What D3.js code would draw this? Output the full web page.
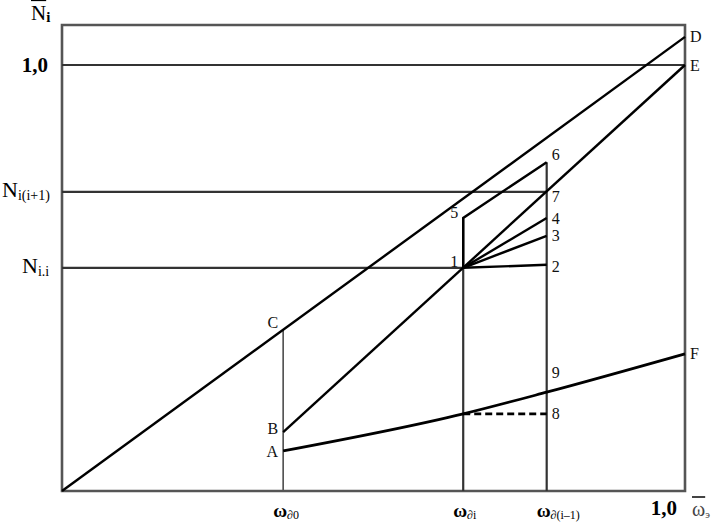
<!DOCTYPE html>
<html><head><meta charset="utf-8">
<script src="https://cdn.jsdelivr.net/npm/d3@7"></script>
<style>body{margin:0;background:#fff}svg{display:block}text{font-family:"Liberation Serif","Times New Roman",serif}</style>
</head><body><svg id="c" width="720" height="528"></svg>
<script>
// x positions (fraction of ω̄э) of the marked levels
const xLabels = ["∂0", "∂i", "∂(i–1)"];
const xValues = [0.355, 0.644, 0.778];
// y levels (fraction of N̄i)
const yLabels = ["1,0", "i(i+1)", "i.i"];
const yValues = [1.0, 0.702, 0.524];
// named lines
const lineOD = [[0, 0], [1, 1.066]];
const lineBE = [[0.355, 0.138], [1, 1.0]];
const line156 = [[0.644, 0.524], [0.644, 0.641], [0.778, 0.772]];
const rayEnds = [0.531, 0.599, 0.641];            // points 2,3,4 at ω∂(i-1)
const curveAF = [[0.355, 0.094], [0.644, 0.181], [0.778, 0.232], [1, 0.322]];
const dashed8 = [[0.644, 0.181], [0.778, 0.181]];
const pointLabels = ["D","E","F","C","B","A","5","1","6","7","4","3","2","9","8"];
const pointPos = [[1,1.066],[1,1.0],[1,0.322],[0.355,0.378],[0.355,0.138],[0.355,0.094],
  [0.644,0.641],[0.644,0.524],[0.778,0.772],[0.778,0.702],[0.778,0.641],[0.778,0.599],[0.778,0.531],[0.778,0.232],[0.778,0.181]];
const pointSide = ["r","r","r","l","l","l","l","l","r","r","r","r","r","r","r"];
const pointDy = [0,0,0,-8,-4,0,-6,-6,-8,4,0,0,2,-20,0];

const svg = d3.select("#c");
const x = d3.scaleLinear().domain([0, 1]).range([62, 685]);
const y = d3.scaleLinear().domain([0, 1]).range([491, 65]);
const yTop = 25;
const line = d3.line().x(d => x(d[0])).y(d => y(d[1]));
const frameCol = "#555";

// frame
svg.append("path").attr("d", `M${x(0)},${yTop}V${y(0)}H${x(1)}V${yTop}Z`)
  .attr("fill","none").attr("stroke",frameCol).attr("stroke-width",2.6);

// horizontal levels
const hEnds = [1, xValues[2], xValues[1]];
yValues.forEach((v,i)=>{
  svg.append("line").attr("x1",x(0)).attr("x2",x(hEnds[i])).attr("y1",y(v)).attr("y2",y(v))
    .attr("stroke","#333").attr("stroke-width",2.2);
});
// verticals
const odAt = xx => lineOD[0][1] + (lineOD[1][1]-lineOD[0][1])*xx;
const vTops = [odAt(xValues[0]), line156[1][1], line156[2][1]];
xValues.forEach((v,i)=>{
  svg.append("line").attr("x1",x(v)).attr("x2",x(v)).attr("y1",y(vTops[i])).attr("y2",y(0))
    .attr("stroke",i==0?"#555":"#333").attr("stroke-width",i==0?1.7:2.2);
});

const dataLine = (pts) => svg.append("path").attr("d", line(pts)).attr("fill","none")
  .attr("stroke","#000").attr("stroke-width",2.4).attr("stroke-linejoin","miter");
dataLine(lineOD);
dataLine(lineBE);
dataLine(line156);
rayEnds.forEach(v => dataLine([line156[0], [xValues[2], v]]));
svg.append("path").attr("d", line.curve(d3.curveMonotoneX)(curveAF)).attr("fill","none")
  .attr("stroke","#000").attr("stroke-width",2.7);
line.curve(d3.curveLinear);
svg.append("path").attr("d", line(dashed8)).attr("fill","none").attr("stroke","#000")
  .attr("stroke-width",2.7).attr("stroke-dasharray","7,4");

// point labels
pointLabels.forEach((t,i)=>{
  const p = pointPos[i];
  svg.append("text").attr("x", x(p[0]) + (pointSide[i]=="r"?5:-5))
    .attr("y", y(p[1]) + pointDy[i]).attr("dy","0.35em")
    .attr("text-anchor", pointSide[i]=="r"?"start":"end")
    .attr("font-size", 16).attr("fill","#111").text(t);
});

// y labels
const yl = svg.append("g");
yl.append("text").attr("x",48).attr("y",y(1)+7).attr("text-anchor","end")
  .attr("font-size",21).attr("font-weight","bold").text(yLabels[0]);
[[1,2],[2,22]].forEach(([i,xx])=>{
  const t = yl.append("text").attr("x",xx).attr("y",y(yValues[i])+5).attr("font-size",22);
  t.append("tspan").text("N");
  t.append("tspan").attr("font-size",14).attr("dy",3).text(yLabels[i]);
});
// y title
const tt = svg.append("text").attr("x",31).attr("y",20).attr("font-size",21);
tt.append("tspan").attr("text-decoration","overline").text("N");
tt.append("tspan").attr("font-size",15).attr("dy",2).attr("font-weight","bold").text("i");

// x labels
xValues.forEach((v,i)=>{
  const t = svg.append("text").attr("x",x(v)-10).attr("y",517).attr("font-size",19).attr("font-weight","bold");
  t.append("tspan").text("ω");
  t.append("tspan").attr("font-size",12).attr("font-weight","normal").attr("dy",2).text(xLabels[i]);
});
svg.append("text").attr("x",677).attr("y",515).attr("text-anchor","end").attr("font-size",21)
  .attr("font-weight","bold").text("1,0");
const xt = svg.append("text").attr("x",692).attr("y",516).attr("font-size",20).attr("fill","#444");
xt.append("tspan").attr("text-decoration","overline").text("ω");
xt.append("tspan").attr("font-size",11).attr("dy",2).text("э");
</script></body></html>
